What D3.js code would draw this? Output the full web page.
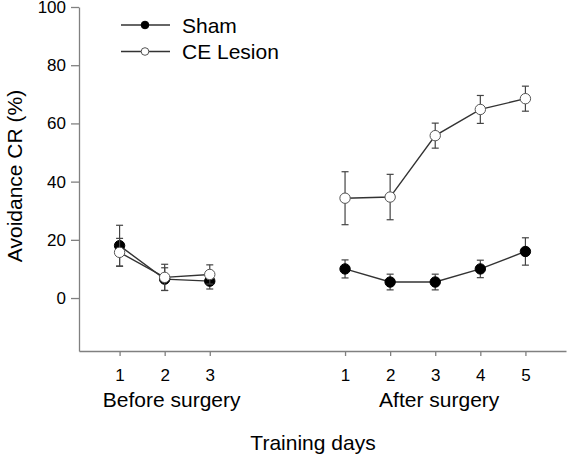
<!DOCTYPE html>
<html><head><meta charset="utf-8">
<script src="https://cdn.jsdelivr.net/npm/d3@7"></script>
<style>body{margin:0;background:#fff}svg{display:block}text{font-family:"Liberation Sans",Arial,sans-serif}</style>
</head><body><svg id="c" width="583" height="456"></svg>
<script>
const beforeDays = [1, 2, 3];
const afterDays = [1, 2, 3, 4, 5];
const shamBefore = [18, 6.5, 5.8];
const shamBeforeErr = [7, 3.9, 2.7];
const ceBefore = [15.7, 7.1, 8.1];
const ceBeforeErr = [4.8, 4.5, 3.3];
const shamAfter = [10, 5.5, 5.5, 10, 16];
const shamAfterErr = [3.1, 2.7, 2.7, 3, 4.7];
const ceAfter = [34.3, 34.7, 55.8, 64.8, 68.5];
const ceAfterErr = [9.1, 7.8, 4.3, 4.8, 4.3];
const yTicks = [0, 20, 40, 60, 80, 100];
const groupLabels = ["Before surgery", "After surgery"];
const seriesNames = ["Sham", "CE Lesion"];

const svg = d3.select("#c");
const axisColor = "#808080";
const x = d3.scaleLinear().domain([0.1, 10.9]).range([79, 566]);
const y = d3.scaleLinear().domain([-18.2, 100]).range([351, 7]);

// positions on continuous axis
const posB = beforeDays.map(d => d);
const posA = afterDays.map(d => d + 5);

// axes
const yAxis = svg.append("g").attr("transform", "translate(79,0)")
  .call(d3.axisLeft(y).tickValues(yTicks).tickSize(8).tickPadding(5).tickSizeOuter(0));
yAxis.select(".domain").attr("stroke", axisColor).attr("stroke-width", 1.3);
yAxis.selectAll(".tick line").attr("stroke", axisColor).attr("stroke-width", 1.3);
yAxis.selectAll(".tick text").attr("font-size", 17).attr("fill", "#000")
  .attr("font-family", '"Liberation Sans",Arial,sans-serif');

const xt = posB.concat(posA);
const xlabels = beforeDays.concat(afterDays);
const xAxis = svg.append("g").attr("transform", "translate(0,351)")
  .call(d3.axisBottom(x).tickValues(xt).tickFormat((d, i) => xlabels[i]).tickSize(5).tickPadding(13).tickSizeOuter(0));
xAxis.select(".domain").attr("stroke", axisColor).attr("stroke-width", 1.3);
xAxis.selectAll(".tick line").attr("stroke", axisColor).attr("stroke-width", 1.3);
xAxis.selectAll(".tick text").attr("font-size", 17).attr("fill", "#000")
  .attr("font-family", '"Liberation Sans",Arial,sans-serif');

// group labels
svg.append("text").attr("x", x(d3.mean(posB)) + 7).attr("y", 407).attr("text-anchor", "middle")
  .attr("font-size", 21).text(groupLabels[0]);
svg.append("text").attr("x", x(d3.mean(posA)) + 4).attr("y", 407).attr("text-anchor", "middle")
  .attr("font-size", 21).text(groupLabels[1]);
svg.append("text").attr("x", 313).attr("y", 450).attr("text-anchor", "middle")
  .attr("font-size", 21).text("Training days");
svg.append("text").attr("transform", "translate(22,176) rotate(-90)").attr("text-anchor", "middle")
  .attr("font-size", 21).text("Avoidance CR (%)");

// series drawing
function drawSeries(pos, vals, errs, fill) {
  const pts = pos.map((p, i) => ({p, v: vals[i], e: errs[i]}));
  const g = svg.append("g");
  const eb = g.selectAll(".eb").data(pts).enter().append("g").attr("stroke", "#444").attr("stroke-width", 1.2);
  eb.append("line").attr("x1", d => x(d.p)).attr("x2", d => x(d.p)).attr("y1", d => y(d.v - d.e)).attr("y2", d => y(d.v + d.e));
  eb.append("line").attr("x1", d => x(d.p) - 3.5).attr("x2", d => x(d.p) + 3.5).attr("y1", d => y(d.v + d.e)).attr("y2", d => y(d.v + d.e));
  eb.append("line").attr("x1", d => x(d.p) - 3.5).attr("x2", d => x(d.p) + 3.5).attr("y1", d => y(d.v - d.e)).attr("y2", d => y(d.v - d.e));
  g.append("path").datum(pts).attr("fill", "none").attr("stroke", "#333").attr("stroke-width", 1.4)
    .attr("d", d3.line().x(d => x(d.p)).y(d => y(d.v)));
  g.selectAll("circle").data(pts).enter().append("circle")
    .attr("cx", d => x(d.p)).attr("cy", d => y(d.v)).attr("r", 5.2)
    .attr("fill", fill).attr("stroke", fill === "#000" ? "#000" : "#555").attr("stroke-width", 1);
}
drawSeries(posB, shamBefore, shamBeforeErr, "#000");
drawSeries(posB, ceBefore, ceBeforeErr, "#fff");
drawSeries(posA, shamAfter, shamAfterErr, "#000");
drawSeries(posA, ceAfter, ceAfterErr, "#fff");

// legend
const leg = svg.append("g");
[0, 1].forEach(i => {
  const ly = 25 + i * 26.5;
  leg.append("line").attr("x1", 121).attr("x2", 170).attr("y1", ly).attr("y2", ly).attr("stroke", "#333").attr("stroke-width", 1.4);
  leg.append("circle").attr("cx", 145).attr("cy", ly).attr("r", 3.8)
    .attr("fill", i === 0 ? "#000" : "#fff").attr("stroke", i === 0 ? "#000" : "#555");
  leg.append("text").attr("x", 182).attr("y", ly + 7.5).attr("font-size", 21).text(seriesNames[i]);
});
</script></body></html>
